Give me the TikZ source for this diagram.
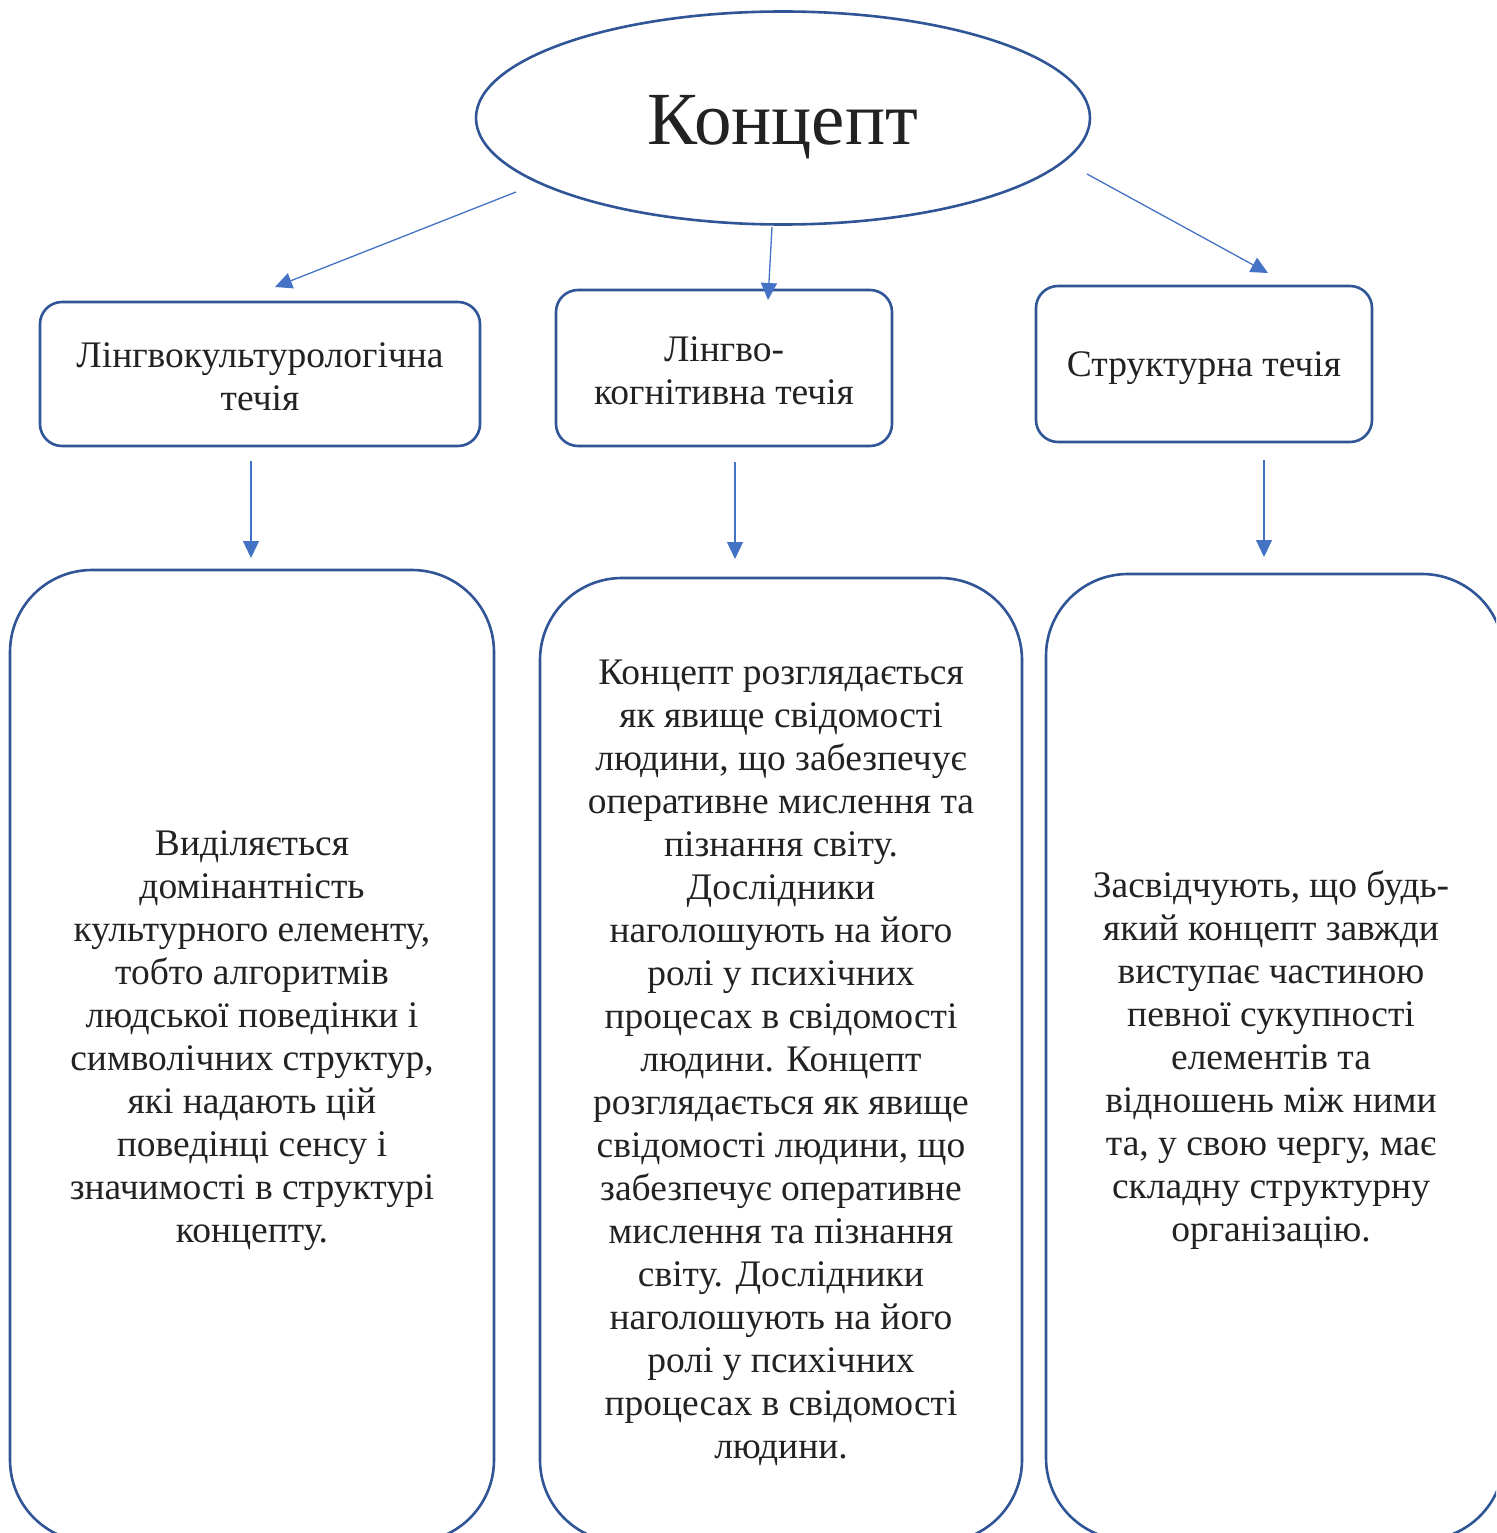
\documentclass[tikz,border=0pt]{standalone}
\usepackage{fontspec}
\setmainfont{Liberation Serif}
\usetikzlibrary{shapes.geometric,arrows.meta}
\definecolor{bord}{HTML}{2F5597}
\definecolor{arr}{HTML}{4472C4}
\definecolor{txt}{HTML}{222222}
\tikzset{
  topbox/.style={draw=bord,line width=2.6pt,rounded corners=22pt,inner sep=0pt},
  bigbox/.style={draw=bord,line width=2.6pt,rounded corners=82pt,inner sep=0pt},
  conn/.style={draw=arr,line width=1.3pt,-{Triangle[length=17pt,width=16pt]}},
  bodytext/.style={text=txt,align=center,font=\fontsize{37.5}{43}\selectfont,inner sep=0pt},
}
\begin{document}
\begin{tikzpicture}[x=1pt,y=-1pt]
\useasboundingbox (0,0) rectangle (1496,1533);
\clip (0,0) rectangle (1496,1533);
\fill[white] (0,0) rectangle (1496,1533);
% top ellipse
\node[ellipse,draw=bord,line width=2.6pt,minimum width=614pt,minimum height=213pt,inner sep=0pt] (root) at (783,118) {};
\node[text=txt,font=\fontsize{75}{80}\selectfont,inner sep=0pt] (roottxt) at (783,127) {Концепт};
% middle boxes
\node[topbox,minimum width=440pt,minimum height=144pt] (m1) at (260,374) {};
\node[bodytext] (m1t) at (260,377) {Лінгвокультурологічна\\течія};
\node[topbox,minimum width=336pt,minimum height=156pt] (m2) at (724,368) {};
\node[bodytext] (m2t) at (724,371) {Лінгво-\\когнітивна течія};
\node[topbox,minimum width=336pt,minimum height=156pt] (m3) at (1204,364) {};
\node[bodytext] (m3t) at (1204,368) {Структурна течія};
% bottom boxes
\node[bigbox,minimum width=484pt,minimum height=972pt] (b1) at (252,1056) {};
\node[bodytext] (b1t) at (252,1041) {Виділяється\\домінантність\\культурного елементу,\\тобто алгоритмів\\людської поведінки і\\символічних структур,\\які надають цій\\поведінці сенсу і\\значимості в структурі\\концепту.};
\node[bigbox,minimum width=482pt,minimum height=964pt] (b2) at (781,1060) {};
\node[bodytext] (b2t) at (781,1063) {Концепт розглядається\\як явище свідомості\\людини, що забезпечує\\оперативне мислення та\\пізнання світу.\\Дослідники\\наголошують на його\\ролі у психічних\\процесах в свідомості\\людини. Концепт\\розглядається як явище\\свідомості людини, що\\забезпечує оперативне\\мислення та пізнання\\світу. Дослідники\\наголошують на його\\ролі у психічних\\процесах в свідомості\\людини.};
\node[bigbox,minimum width=458pt,minimum height=966pt] (b3) at (1275,1057) {};
\node[bodytext] (b3t) at (1271,1060) {Засвідчують, що будь-\\який концепт завжди\\виступає частиною\\певної сукупності\\елементів та\\відношень між ними\\та, у свою чергу, має\\складну структурну\\організацію.};
% connector end points
\coordinate (s1) at (516,192);
\coordinate (e1) at (275,287);
\coordinate (s2) at (772,227);
\coordinate (e2) at (768,300);
\coordinate (s3) at (1087,174);
\coordinate (e3) at (1268,273);
\coordinate (d1s) at (251,461);
\coordinate (d1e) at (251,558);
\coordinate (d2s) at (735,462);
\coordinate (d2e) at (735,559);
\coordinate (d3s) at (1264,460);
\coordinate (d3e) at (1264,557);
\draw[conn] (s1) -- (e1);
\draw[conn] (s2) -- (e2);
\draw[conn] (s3) -- (e3);
\draw[conn] (d1s) -- (d1e);
\draw[conn] (d2s) -- (d2e);
\draw[conn] (d3s) -- (d3e);
\end{tikzpicture}
\end{document}
